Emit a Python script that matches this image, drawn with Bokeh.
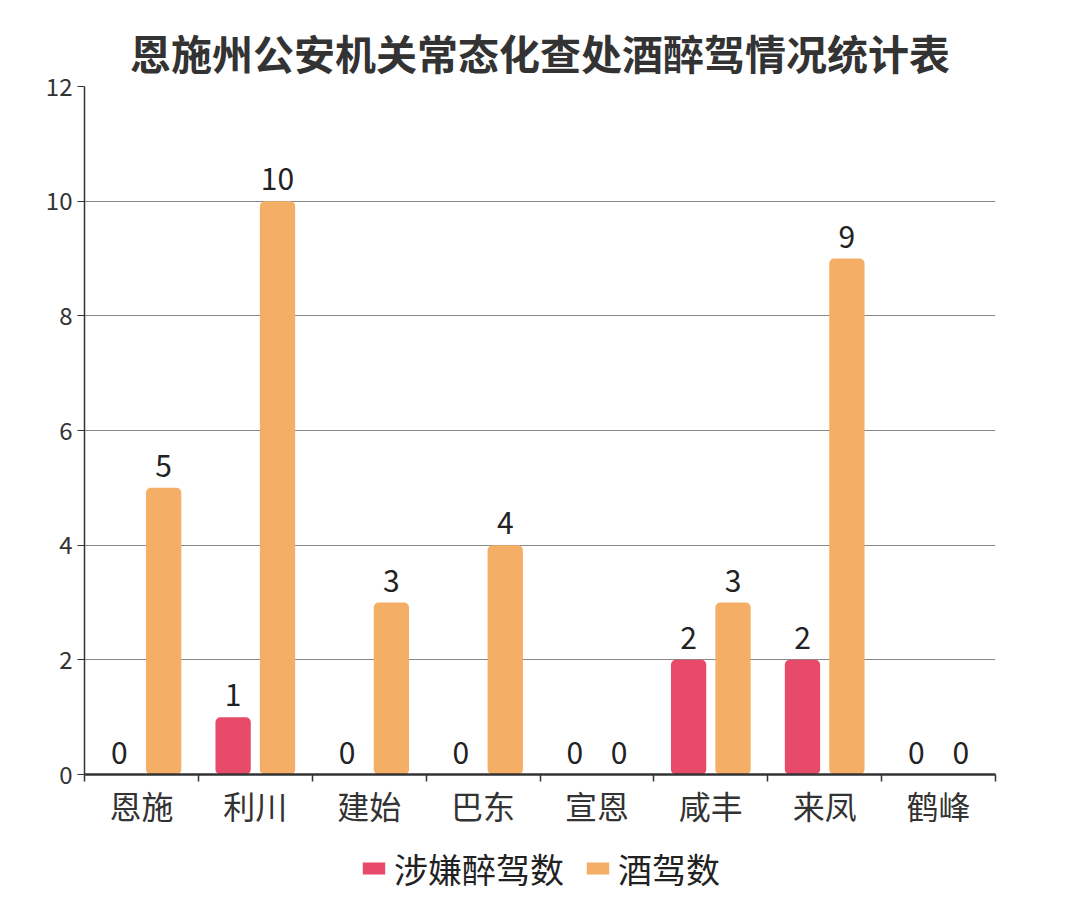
from bokeh.plotting import figure
from bokeh.layouts import column
from bokeh.models import ColumnDataSource, FixedTicker, Legend, LegendItem, Range1d
from bokeh.transform import dodge
from bokeh.core.properties import value
from bokeh.embed import file_html
from bokeh.resources import INLINE

title_text = "恩施州公安机关常态化查处酒醉驾情况统计表"
categories = ["恩施", "利川", "建始", "巴东", "宣恩", "咸丰", "来凤", "鹤峰"]
series_names = ["涉嫌醉驾数", "酒驾数"]
suspected = [0, 1, 0, 0, 0, 2, 2, 0]
drunk = [5, 10, 3, 4, 0, 3, 9, 0]
y_ticks = [0, 2, 4, 6, 8, 10, 12]

RED = "#e84a6a"
ORANGE = "#f5ae65"
FONT = "Noto Sans CJK SC"

centers = [i + 0.5 for i in range(len(categories))]
bounds = list(range(len(categories) + 1))

src = ColumnDataSource(dict(
    x=centers, a=suspected, b=drunk,
    at=[str(v) for v in suspected], bt=[str(v) for v in drunk],
))

p = figure(width=1072, height=830, x_range=Range1d(0, len(categories)),
           y_range=Range1d(0, 12), output_backend="svg", toolbar_location=None,
           min_border_left=84, min_border_right=77, min_border_top=86,
           min_border_bottom=55)

p.title.text = title_text
p.title.align = "center"
p.title.text_font = FONT
p.title.text_font_size = "41px"
p.title.text_font_style = "bold"
p.title.text_color = "#333333"

r1 = p.vbar(x=dodge("x", -0.195), top="a", width=0.31, source=src,
            fill_color=RED, line_color=None, border_radius=5)
r2 = p.vbar(x=dodge("x", 0.195), top="b", width=0.31, source=src,
            fill_color=ORANGE, line_color=None, border_radius=5)

p.text(x=dodge("x", -0.195), y="a", text="at", source=src, text_align="center",
       text_baseline="bottom", y_offset=-11, text_font=value(FONT),
       text_font_size="30px", text_color="#222222")
p.text(x=dodge("x", 0.195), y="b", text="bt", source=src, text_align="center",
       text_baseline="bottom", y_offset=-11, text_font=value(FONT),
       text_font_size="30px", text_color="#222222")

p.outline_line_color = None
p.xgrid.visible = False
p.ygrid.grid_line_color = "#888888"
p.ygrid.grid_line_width = 1
p.ygrid.ticker = FixedTicker(ticks=y_ticks)

ya = p.yaxis[0]
ya.ticker = FixedTicker(ticks=y_ticks)
ya.axis_line_color = "#333333"
ya.axis_line_width = 1.5
ya.major_tick_in = 0
ya.major_tick_out = 7
ya.major_tick_line_color = "#333333"
ya.minor_tick_line_color = None
ya.major_label_text_font = FONT
ya.major_label_text_font_size = "24px"
ya.major_label_text_color = "#333333"
ya.major_label_standoff = 5

xa = p.xaxis[0]
xa.ticker = FixedTicker(ticks=centers, minor_ticks=bounds)
xa.major_label_overrides = {c: n for c, n in zip(centers, categories)}
xa.axis_line_color = "#333333"
xa.axis_line_width = 2.5
xa.major_tick_line_color = None
xa.major_tick_in = 0
xa.major_tick_out = 7
xa.minor_tick_in = 0
xa.minor_tick_out = 7
xa.minor_tick_line_color = "#333333"
xa.minor_tick_line_width = 1.5
xa.major_label_text_font = FONT
xa.major_label_text_font_size = "32px"
xa.major_label_text_color = "#333333"
xa.major_label_standoff = 0

# legend strip below the chart (its bars lie outside this strip's ranges)
lg = figure(width=1072, height=76, x_range=Range1d(100, 101), y_range=Range1d(100, 101),
            output_backend="svg", toolbar_location=None,
            min_border_left=0, min_border_right=0, min_border_top=0,
            min_border_bottom=0)
lg.axis.visible = False
lg.grid.visible = False
lg.outline_line_color = None
l1 = lg.vbar(x="x", top="a", width=0.3, source=src, fill_color=RED,
             line_color=None, border_radius=4)
l2 = lg.vbar(x="x", top="b", width=0.3, source=src, fill_color=ORANGE,
             line_color=None, border_radius=4)
legend = Legend(items=[LegendItem(label=series_names[0], renderers=[l1], index=0),
                       LegendItem(label=series_names[1], renderers=[l2], index=0)],
                orientation="horizontal", location="center",
                border_line_color=None, background_fill_alpha=0,
                glyph_width=28, glyph_height=15, label_standoff=7, spacing=19,
                label_text_font=FONT, label_text_font_size="34px",
                label_text_color="#222222", padding=0, margin=0)
lg.add_layout(legend)

layout = column(p, lg, spacing=0)
open("out.html", "w").write(file_html(layout, INLINE))
